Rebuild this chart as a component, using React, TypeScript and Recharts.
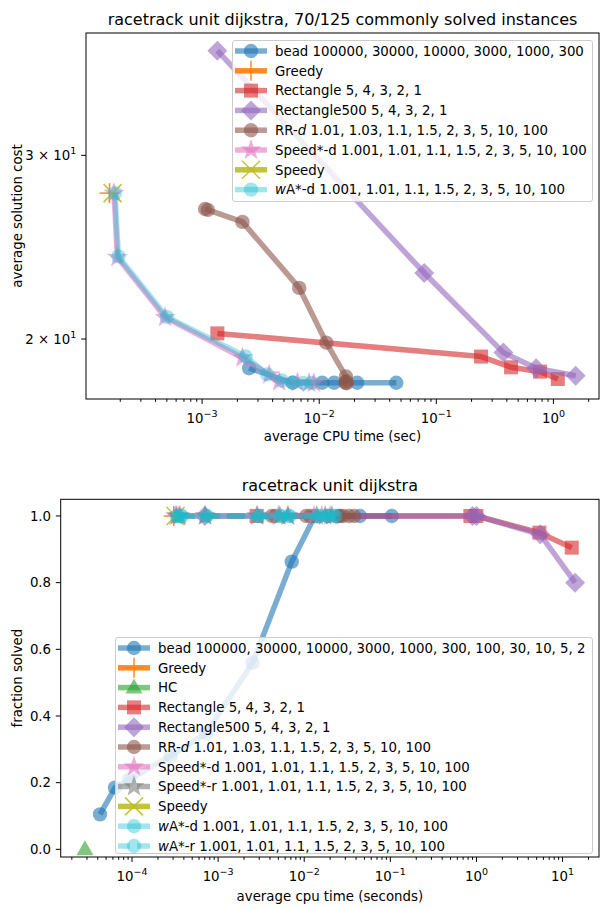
import React from 'react';
import { ScatterChart, Scatter, XAxis, YAxis } from 'recharts';

const FONT = "'DejaVu Sans', sans-serif";
const FS = 13.33;

const BLUE = '#1f77b4';
const ORANGE = '#ff7f0e';
const GREEN = '#2ca02c';
const RED = '#d62728';
const PURPLE = '#9467bd';
const BROWN = '#8c564b';
const PINK = '#e377c2';
const GRAY = '#7f7f7f';
const OLIVE = '#bcbd22';
const CYAN = '#17becf';

// ---- top chart: 70/125 commonly solved instances (cpu sec, avg cost) ----
const topBeadTime = [4.55e-2, 2.11e-2, 1.34e-2, 1.06e-2, 5.92e-3, 2.52e-3];
const topBeadCost = [18.16, 18.16, 18.16, 18.16, 18.16, 18.75];
const topGreedyTime = [1.62e-4];
const topGreedyCost = [27.6];
const topRectTime = [1.35e-3, 0.241, 0.435, 0.769, 1.09];
const topRectCost = [20.25, 19.24, 18.79, 18.61, 18.31];
const topRect500Time = [1.35e-3, 0.0789, 0.374, 0.711, 1.55];
const topRect500Cost = [37.8, 23.14, 19.41, 18.75, 18.44];
const topRRTime = [1.06e-3, 1.12e-3, 2.21e-3, 6.75e-3, 1.15e-2, 1.69e-2, 1.7e-2, 1.68e-2, 1.71e-2];
const topRRCost = [26.65, 26.6, 25.9, 22.39, 19.84, 18.41, 18.22, 18.16, 18.14];
const topSpeedDTime = [1.77e-4, 1.89e-4, 4.83e-4, 2.21e-3, 3.74e-3, 4.55e-3, 6.53e-3, 8.2e-3, 9.0e-3];
const topSpeedDCost = [27.6, 23.95, 20.98, 19.19, 18.48, 18.2, 18.17, 18.15, 18.15];
const topSpeedyTime = [1.72e-4];
const topSpeedyCost = [27.6];
const topWADTime = [1.8e-4, 1.93e-4, 5.0e-4, 2.36e-3, 3.6e-3, 4.8e-3, 6.0e-3, 7.3e-3, 8.6e-3];
const topWADCost = [27.6, 24.0, 21.0, 19.24, 18.5, 18.25, 18.17, 18.15, 18.15];

// ---- bottom chart: fraction solved vs cpu seconds ----
const botBeadTime = [0.104, 4.44e-2, 2.5e-2, 1.33e-2, 7.16e-3, 2.52e-3, 7.23e-4, 2.81e-4, 9.3e-5, 6.35e-5, 4.25e-5];
const botBeadSolved = [1, 1, 1, 1, 0.863, 0.56, 0.348, 0.28, 0.21, 0.185, 0.105];
const botGreedyTime = [3.05e-4];
const botGreedySolved = [1];
const botHCTime = [2.84e-5];
const botHCSolved = [0];
const botRectTime = [2.8e-3, 0.85, 1.0, 5.38, 12.8];
const botRectSolved = [1, 1, 1, 0.95, 0.905];
const botRect500Time = [7.0e-4, 0.9, 1.0, 5.5, 14.0];
const botRect500Solved = [1, 1, 1, 0.945, 0.8];
const botRRTime = [4.2e-3, 4.6e-3, 1.05e-2, 1.17e-2, 1.9e-2, 2.6e-2, 2.82e-2, 3.3e-2, 3.79e-2];
const botRRSolved = [1, 1, 1, 1, 1, 1, 1, 1, 1];
const botSpeedDTime = [3.2e-4, 3.5e-4, 7.0e-4, 2.8e-3, 5.0e-3, 6.4e-3, 1.3e-2, 1.6e-2, 2.0e-2];
const botSpeedDSolved = [1, 1, 1, 1, 1, 1, 1, 1, 1];
const botSpeedRTime = [3.3e-4, 3.6e-4, 7.1e-4, 2.85e-3, 5.2e-3, 6.5e-3, 1.4e-2, 1.75e-2, 2.1e-2];
const botSpeedRSolved = [1, 1, 1, 1, 1, 1, 1, 1, 1];
const botSpeedyTime = [3.2e-4];
const botSpeedySolved = [1];
const botWADTime = [3.3e-4, 3.7e-4, 7.3e-4, 2.9e-3, 5.2e-3, 6.6e-3, 1.45e-2, 1.8e-2, 2.2e-2];
const botWADSolved = [1, 1, 1, 1, 1, 1, 1, 1, 1];
const botWARTime = [3.4e-4, 3.8e-4, 7.4e-4, 3.0e-3, 5.4e-3, 6.8e-3, 1.5e-2, 1.9e-2, 2.3e-2];
const botWARSolved = [1, 1, 1, 1, 1, 1, 1, 1, 1];

const topYTicks = [20, 30];
const botYTicks = [0, 0.2, 0.4, 0.6, 0.8, 1.0];

type Series = {
  label: string;
  color: string;
  marker: string;
  time: number[];
  value: number[];
  alpha?: number;
  dashed?: boolean;
};

const topSeries: Series[] = [
  { label: 'bead 100000, 30000, 10000, 3000, 1000, 300', color: BLUE, marker: 'o', time: topBeadTime, value: topBeadCost },
  { label: 'Greedy', color: ORANGE, marker: '+', time: topGreedyTime, value: topGreedyCost, alpha: 0.9 },
  { label: 'Rectangle 5, 4, 3, 2, 1', color: RED, marker: 's', time: topRectTime, value: topRectCost },
  { label: 'Rectangle500 5, 4, 3, 2, 1', color: PURPLE, marker: 'D', time: topRect500Time, value: topRect500Cost },
  { label: 'RR-{d} 1.01, 1.03, 1.1, 1.5, 2, 3, 5, 10, 100', color: BROWN, marker: 'o', time: topRRTime, value: topRRCost },
  { label: 'Speed*-d 1.001, 1.01, 1.1, 1.5, 2, 3, 5, 10, 100', color: PINK, marker: '*', time: topSpeedDTime, value: topSpeedDCost },
  { label: 'Speedy', color: OLIVE, marker: 'x', time: topSpeedyTime, value: topSpeedyCost, alpha: 0.9 },
  { label: '{w}A*-d 1.001, 1.01, 1.1, 1.5, 2, 3, 5, 10, 100', color: CYAN, marker: 'o', time: topWADTime, value: topWADCost, alpha: 0.4 },
];

const botSeries: Series[] = [
  { label: 'bead 100000, 30000, 10000, 3000, 1000, 300, 100, 30, 10, 5, 2', color: BLUE, marker: 'o', time: botBeadTime, value: botBeadSolved },
  { label: 'Greedy', color: ORANGE, marker: '+', time: botGreedyTime, value: botGreedySolved, alpha: 0.9 },
  { label: 'HC', color: GREEN, marker: '^', time: botHCTime, value: botHCSolved },
  { label: 'Rectangle 5, 4, 3, 2, 1', color: RED, marker: 's', time: botRectTime, value: botRectSolved },
  { label: 'Rectangle500 5, 4, 3, 2, 1', color: PURPLE, marker: 'D', time: botRect500Time, value: botRect500Solved },
  { label: 'RR-{d} 1.01, 1.03, 1.1, 1.5, 2, 3, 5, 10, 100', color: BROWN, marker: 'o', time: botRRTime, value: botRRSolved },
  { label: 'Speed*-d 1.001, 1.01, 1.1, 1.5, 2, 3, 5, 10, 100', color: PINK, marker: '*', time: botSpeedDTime, value: botSpeedDSolved },
  { label: 'Speed*-r 1.001, 1.01, 1.1, 1.5, 2, 3, 5, 10, 100', color: GRAY, marker: '*', time: botSpeedRTime, value: botSpeedRSolved, dashed: true },
  { label: 'Speedy', color: OLIVE, marker: 'x', time: botSpeedyTime, value: botSpeedySolved, alpha: 0.9 },
  { label: '{w}A*-d 1.001, 1.01, 1.1, 1.5, 2, 3, 5, 10, 100', color: CYAN, marker: 'o', time: botWADTime, value: botWADSolved, alpha: 0.4 },
  { label: '{w}A*-r 1.001, 1.01, 1.1, 1.5, 2, 3, 5, 10, 100', color: CYAN, marker: 'o', time: botWARTime, value: botWARSolved, alpha: 0.4, dashed: true },
];

const LW = 5.5;

function logTicks(lo: number, hi: number) {
  const out: number[] = [];
  for (let e = Math.floor(Math.log10(lo)); e <= Math.ceil(Math.log10(hi)); e++) {
    for (let m = 1; m < 10; m++) {
      const v = m * Math.pow(10, e);
      if (v >= lo && v <= hi) out.push(v);
    }
  }
  return out;
}

function Marker({ kind, cx, cy, color, alpha }: any) {
  if (cx == null || cy == null) return null;
  switch (kind) {
    case 'o':
      return <circle cx={cx} cy={cy} r={7.2} fill={color} fillOpacity={alpha} />;
    case 's':
      return <rect x={cx - 7} y={cy - 7} width={14} height={14} fill={color} fillOpacity={alpha} />;
    case 'D':
      return (
        <polygon
          points={`${cx},${cy - 10} ${cx + 10},${cy} ${cx},${cy + 10} ${cx - 10},${cy}`}
          fill={color}
          fillOpacity={alpha}
        />
      );
    case '^':
      return (
        <polygon
          points={`${cx},${cy - 9} ${cx + 8.5},${cy + 6} ${cx - 8.5},${cy + 6}`}
          fill={color}
          fillOpacity={alpha}
        />
      );
    case '*': {
      const pts: string[] = [];
      for (let i = 0; i < 10; i++) {
        const r = i % 2 === 0 ? 11 : 4.4;
        const a = -Math.PI / 2 + (i * Math.PI) / 5;
        pts.push(`${cx + r * Math.cos(a)},${cy + r * Math.sin(a)}`);
      }
      return <polygon points={pts.join(' ')} fill={color} fillOpacity={alpha} />;
    }
    case '+':
      return (
        <g stroke={color} strokeOpacity={alpha} strokeWidth={1.5}>
          <line x1={cx - 10} x2={cx + 10} y1={cy} y2={cy} />
          <line x1={cx} x2={cx} y1={cy - 10} y2={cy + 10} />
        </g>
      );
    case 'x':
      return (
        <g stroke={color} strokeOpacity={alpha} strokeWidth={1.5}>
          <line x1={cx - 9} x2={cx + 9} y1={cy - 9} y2={cy + 9} />
          <line x1={cx - 9} x2={cx + 9} y1={cy + 9} y2={cy - 9} />
        </g>
      );
    default:
      return null;
  }
}

function sup(e: number) {
  return e < 0 ? '\u2212' + -e : String(e);
}

function isMajor(v: number) {
  const l = Math.log10(v);
  return Math.abs(l - Math.round(l)) < 1e-9;
}

const makeLogXTick = (labelDy: number) => (props: any) => {
  const { x, y, payload } = props;
  const v = payload.value;
  const major = isMajor(v);
  return (
    <g>
      <line x1={x} x2={x} y1={y} y2={y + (major ? 4.9 : 2.8)} stroke='#000' strokeWidth={1} />
      {major && (
        <text x={x} y={y + labelDy} textAnchor='middle' fontFamily={FONT} fontSize={FS} fill='#000'>
          10
          <tspan dy={-6} fontSize={9.5}>
            {sup(Math.round(Math.log10(v)))}
          </tspan>
        </text>
      )}
    </g>
  );
};

const TopYTick = (props: any) => {
  const { x, y, payload } = props;
  return (
    <g>
      <line x1={x} x2={x - 4.9} y1={y} y2={y} stroke='#000' strokeWidth={1} />
      <text x={x - 9.6} y={y + 4.8} textAnchor='end' fontFamily={FONT} fontSize={FS} fill='#000'>
        {`${payload.value / 10} \u00d7 10`}
        <tspan dy={-6} fontSize={9.5}>
          1
        </tspan>
      </text>
    </g>
  );
};

const BotYTick = (props: any) => {
  const { x, y, payload } = props;
  return (
    <g>
      <line x1={x} x2={x - 4.9} y1={y} y2={y} stroke='#000' strokeWidth={1} />
      <text x={x - 9.6} y={y + 4.8} textAnchor='end' fontFamily={FONT} fontSize={FS} fill='#000'>
        {payload.value.toFixed(1)}
      </text>
    </g>
  );
};

function renderSeries(list: Series[], prefix: string) {
  return list.map((s, i) => {
    const alpha = s.alpha ?? 0.6;
    const data = s.time.map((t, j) => ({ x: t, y: s.value[j] }));
    return (
      <Scatter
        key={`${prefix}-${i}`}
        data={data}
        isAnimationActive={false}
        line={
          data.length > 1
            ? {
                stroke: s.color,
                strokeWidth: LW,
                strokeOpacity: alpha,
                strokeDasharray: s.dashed ? '18 7' : undefined,
                strokeLinejoin: 'round',
              }
            : false
        }
        shape={(p: any) => <Marker kind={s.marker} cx={p.cx} cy={p.cy} color={s.color} alpha={alpha} />}
      />
    );
  });
}

function richLabel(text: string) {
  return text.split(/(\{[^}]+\})/).filter(Boolean).map((part, i) =>
    part.startsWith('{') ? (
      <tspan key={i} fontStyle='italic'>
        {part.slice(1, -1)}
      </tspan>
    ) : (
      <tspan key={i}>{part}</tspan>
    )
  );
}

function LegendBox({ list, left, top, width, height }: any) {
  const rowH = 19.8;
  return (
    <div
      style={{
        position: 'absolute',
        left,
        top,
        width,
        height,
        boxSizing: 'border-box',
        background: 'rgba(255,255,255,0.8)',
        border: '1px solid #cccccc',
        borderRadius: 3,
      }}
    >
      <svg width={width} height={height} style={{ position: 'absolute', left: -1, top: -1 }}>
        {list.map((s: Series, i: number) => {
          const cy = 11 + i * rowH;
          const alpha = s.alpha ?? 0.6;
          return (
            <g key={i}>
              <line
                x1={3}
                x2={35}
                y1={cy}
                y2={cy}
                stroke={s.color}
                strokeOpacity={alpha}
                strokeWidth={LW}
                strokeDasharray={s.dashed ? '18 7' : undefined}
                strokeDashoffset={s.dashed ? 6 : undefined}
              />
              <Marker kind={s.marker} cx={19} cy={cy} color={s.color} alpha={alpha} />
              <text x={43} y={cy + 4.8} fontFamily={FONT} fontSize={FS} fill='#000' style={{ whiteSpace: 'pre' }}>
                {richLabel(s.label)}
              </text>
            </g>
          );
        })}
      </svg>
    </div>
  );
}

const TOP = { left: 86, right: 599, top: 33, bottom: 399 };
const BOT = { left: 60.7, right: 599, top: 499.3, bottom: 857 };
const TOP_X_DOMAIN = [1.02e-4, 2.45];
const BOT_X_DOMAIN = [1.485e-5, 26.5];

export default function App() {
  const W = 600;
  const H = 909;
  return (
    <div style={{ position: 'absolute', left: 0, top: 0, width: W, height: H, background: '#fff', fontFamily: FONT }}>
      <div style={{ position: 'absolute', left: 0, top: 0 }}>
        <ScatterChart
          width={W}
          height={H}
          margin={{ top: TOP.top, right: W - TOP.right, bottom: H - TOP.bottom - 30, left: 0 }}
        >
          <XAxis
            type='number'
            dataKey='x'
            scale='log'
            domain={TOP_X_DOMAIN}
            allowDataOverflow
            ticks={logTicks(TOP_X_DOMAIN[0], TOP_X_DOMAIN[1])}
            interval={0}
            height={30}
            tickSize={0}
            tickMargin={0}
            axisLine={false}
            tickLine={false}
            tick={makeLogXTick(24)}
          />
          <YAxis
            type='number'
            dataKey='y'
            scale='log'
            domain={[17.52, 39.3]}
            allowDataOverflow
            ticks={topYTicks}
            interval={0}
            width={TOP.left}
            tickSize={0}
            tickMargin={0}
            axisLine={false}
            tickLine={false}
            tick={TopYTick}
          />
          {renderSeries(topSeries, 'top')}
        </ScatterChart>
      </div>
      <div style={{ position: 'absolute', left: 0, top: 0 }}>
        <ScatterChart
          width={W}
          height={H}
          margin={{ top: BOT.top, right: W - BOT.right, bottom: H - BOT.bottom - 30, left: 0 }}
        >
          <XAxis
            type='number'
            dataKey='x'
            scale='log'
            domain={BOT_X_DOMAIN}
            allowDataOverflow
            ticks={logTicks(BOT_X_DOMAIN[0], BOT_X_DOMAIN[1])}
            interval={0}
            height={30}
            tickSize={0}
            tickMargin={0}
            axisLine={false}
            tickLine={false}
            tick={makeLogXTick(24)}
          />
          <YAxis
            type='number'
            dataKey='y'
            domain={[-0.023, 1.05]}
            allowDataOverflow
            ticks={botYTicks}
            interval={0}
            width={BOT.left}
            tickSize={0}
            tickMargin={0}
            axisLine={false}
            tickLine={false}
            tick={BotYTick}
          />
          {renderSeries(botSeries, 'bot')}
        </ScatterChart>
      </div>

      {/* frames, titles and axis labels */}
      <svg width={W} height={H} style={{ position: 'absolute', left: 0, top: 0 }}>
        <rect
          x={TOP.left}
          y={TOP.top}
          width={TOP.right - TOP.left}
          height={TOP.bottom - TOP.top}
          fill='none'
          stroke='#000'
          strokeWidth={1}
        />
        <rect
          x={BOT.left}
          y={BOT.top}
          width={BOT.right - BOT.left}
          height={BOT.bottom - BOT.top}
          fill='none'
          stroke='#000'
          strokeWidth={1}
        />
        <text x={(TOP.left + TOP.right) / 2} y={25} textAnchor='middle' fontFamily={FONT} fontSize={16}>
          racetrack unit dijkstra, 70/125 commonly solved instances
        </text>
        <text x={(TOP.left + TOP.right) / 2} y={441} textAnchor='middle' fontFamily={FONT} fontSize={FS}>
          average CPU time (sec)
        </text>
        <text
          x={22}
          y={(TOP.top + TOP.bottom) / 2}
          textAnchor='middle'
          fontFamily={FONT}
          fontSize={FS}
          transform={`rotate(-90 22 ${(TOP.top + TOP.bottom) / 2})`}
        >
          average solution cost
        </text>
        <text x={(BOT.left + BOT.right) / 2} y={491} textAnchor='middle' fontFamily={FONT} fontSize={16}>
          racetrack unit dijkstra
        </text>
        <text x={(BOT.left + BOT.right) / 2} y={901} textAnchor='middle' fontFamily={FONT} fontSize={FS}>
          average cpu time (seconds)
        </text>
        <text
          x={22}
          y={(BOT.top + BOT.bottom) / 2}
          textAnchor='middle'
          fontFamily={FONT}
          fontSize={FS}
          transform={`rotate(-90 22 ${(BOT.top + BOT.bottom) / 2})`}
        >
          fraction solved
        </text>
      </svg>

      <LegendBox list={topSeries} left={231.7} top={40} width={361.3} height={162} />
      <LegendBox list={botSeries} left={115} top={637} width={478} height={217} />
    </div>
  );
}
